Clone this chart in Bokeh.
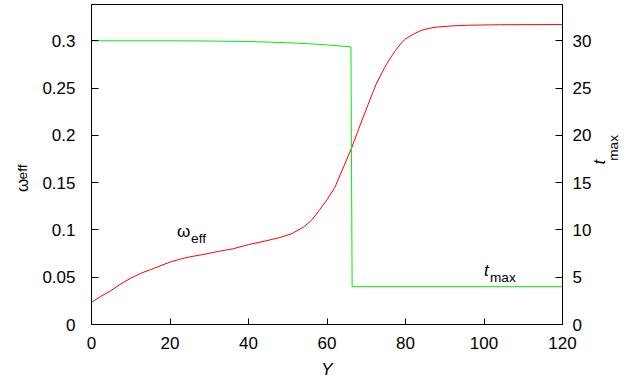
from bokeh.plotting import figure
from bokeh.models import Range1d, LinearAxis, FixedTicker, Label
from bokeh.embed import file_html
from bokeh.resources import INLINE

# ---- data ----
y_omega = [0, 2.5, 5, 7.5, 10, 12.5, 15, 17.5, 20, 22.5, 25, 28, 32, 36, 40, 44, 48, 51, 54,
           56, 58, 60, 62, 64, 66.2, 68, 70.5, 72.5, 74.7, 76, 77.5, 78.9, 80, 81.4, 82.5,
           84, 86, 88, 92, 96, 104, 120]
omega_eff = [0.0236, 0.030, 0.036, 0.043, 0.049, 0.054, 0.058, 0.062, 0.066, 0.069, 0.0715,
             0.0737, 0.077, 0.080, 0.0845, 0.088, 0.092, 0.096, 0.103, 0.110, 0.1205, 0.132,
             0.145, 0.1645, 0.186, 0.206, 0.233, 0.254, 0.272, 0.281, 0.290, 0.2975, 0.302,
             0.3056, 0.308, 0.311, 0.3132, 0.3145, 0.3158, 0.3165, 0.317, 0.3172]

y_t = [0, 10, 20, 30, 40, 50, 55, 60, 66.1, 66.4, 120]
t_max = [30.0, 30.0, 30.0, 29.98, 29.93, 29.8, 29.7, 29.57, 29.35, 4.0, 4.0]

x_ticks = [0, 20, 40, 60, 80, 100, 120]
left_ticks = [0, 0.05, 0.1, 0.15, 0.2, 0.25, 0.3]
left_tick_labels = ["0", "0.05", "0.1", "0.15", "0.2", "0.25", "0.3"]
right_ticks = [0, 5, 10, 15, 20, 25, 30]

FONT = "Liberation Sans"
FS = "17px"
SUB = "13.6px"
NB = "\u00a0"
UP = 1.5707963267948966

p = figure(width=631, height=381,
           x_range=Range1d(0, 120), y_range=Range1d(0, 0.3384),
           output_backend="svg", toolbar_location=None,
           min_border_left=89, min_border_right=69, min_border_top=4, min_border_bottom=57)
p.extra_y_ranges = {"t": Range1d(0, 33.84)}
p.grid.visible = False
p.outline_line_color = "black"
p.outline_line_width = 1
p.background_fill_color = "white"
p.border_fill_color = "white"

def style_axis(ax, tick_in, standoff):
    ax.axis_line_color = "black"
    ax.major_tick_in = tick_in
    ax.major_tick_out = 0
    ax.minor_tick_line_color = None
    ax.major_tick_line_color = "black"
    ax.major_label_text_font = FONT
    ax.major_label_text_font_size = FS
    ax.major_label_text_color = "black"
    ax.major_label_standoff = standoff

xa = p.xaxis[0]
xa.ticker = FixedTicker(ticks=x_ticks)
style_axis(xa, 6, 12)
xa.axis_label = "Y"
xa.axis_label_text_font = FONT
xa.axis_label_text_font_size = FS
xa.axis_label_text_font_style = "italic"
xa.axis_label_text_color = "black"
xa.axis_label_standoff = 8

ya = p.yaxis[0]
ya.ticker = FixedTicker(ticks=left_ticks)
ya.major_label_overrides = {t: s for t, s in zip(left_ticks, left_tick_labels)}
style_axis(ya, 7, 16)

ra = LinearAxis(y_range_name="t", ticker=FixedTicker(ticks=right_ticks))
style_axis(ra, 7, 10)
p.add_layout(ra, "right")

def text_axis(side, text, size, standoff, italic=False, rng="default"):
    # an axis without line, ticks or tick labels that only carries its title text
    ax = LinearAxis(y_range_name=rng, ticker=FixedTicker(ticks=[]))
    ax.axis_line_color = None
    ax.major_tick_line_color = None
    ax.minor_tick_line_color = None
    ax.major_tick_in = 0
    ax.major_tick_out = 0
    ax.major_label_text_font_size = "0px"
    ax.major_label_standoff = 0
    ax.axis_label = text
    ax.axis_label_text_font = FONT
    ax.axis_label_text_font_size = size
    ax.axis_label_text_font_style = "italic" if italic else "normal"
    ax.axis_label_text_color = "black"
    ax.axis_label_standoff = standoff
    if "axis_label_orientation" in ax.properties():
        ax.axis_label_orientation = UP
    p.add_layout(ax, side)

# left axis title: omega_eff, read upwards
text_axis("left", "ω" + NB * 3, FS, 17)
text_axis("left", "eff", SUB, -22)
# right axis title: t_max, read upwards
text_axis("right", "t", FS, 5, italic=True, rng="t")
text_axis("right", NB + "max", SUB, -8, rng="t")

p.line(y_omega, omega_eff, line_color="#ff0000", line_width=1)
p.line(y_t, t_max, line_color="#00ee00", line_width=1, y_range_name="t")

def lab(x, y, text, size=FS, italic=False, xo=0, yo=0, rng="default"):
    l = Label(x=x, y=y, text=text, text_font=FONT, text_font_size=size,
              text_font_style="italic" if italic else "normal",
              x_offset=xo, y_offset=yo,
              text_align="left", text_baseline="alphabetic", text_color="black",
              y_range_name=rng)
    p.add_layout(l)

# in-plot labels
lab(21.8, 0.0983, "ω")
lab(21.8, 0.0983, "eff", size=SUB, xo=14, yo=-6.5)
lab(100.0, 5.71, "t", italic=True, rng="t")
lab(100.0, 5.71, "max", size=SUB, xo=6, yo=-7, rng="t")

open("out.html", "w").write(file_html(p, INLINE))
